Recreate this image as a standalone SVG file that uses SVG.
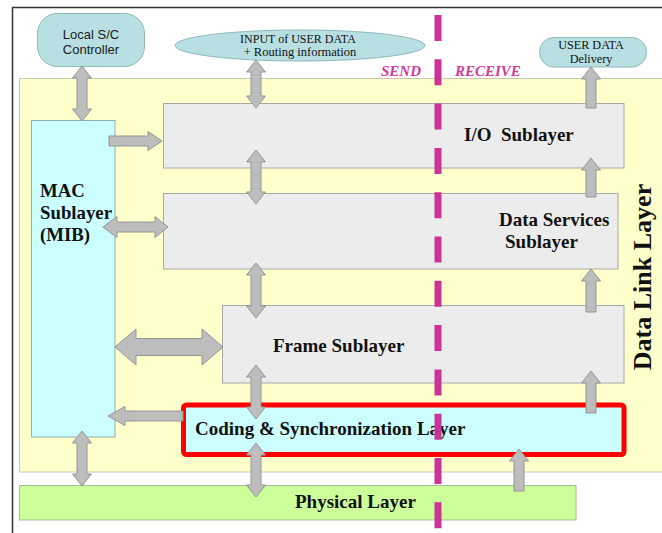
<svg xmlns="http://www.w3.org/2000/svg" width="662" height="533" viewBox="0 0 662 533">
<style>
.bg{fill:#ffffff}
.sans{font-family:"Liberation Sans",Arial,sans-serif;fill:#1a1a1a}
.serif{font-family:"Liberation Serif","Times New Roman",serif;fill:#111}
.b{font-weight:bold}
.teal{fill:#b8dfe2;stroke:#8fb8bc;stroke-width:1}
.grey{fill:#ececec;stroke:#a8a8a8;stroke-width:1}
.cyan{fill:#ccffff;stroke:#8fb0b0;stroke-width:1}
.arrow{fill:#bdbdbd;stroke:#959595;stroke-width:1;stroke-linejoin:miter}
.lbl{font-size:19px}
.mag{fill:#d4389e;font-style:italic;font-weight:bold;font-size:15px}
</style>
<rect x="0" y="0" width="662" height="533" class="bg"/>
<path d="M12.5,533 V7.5 H662" fill="none" stroke="#333" stroke-width="1.5"/>
<g id="data-link-layer">
  <rect x="19.5" y="78.5" width="650" height="393.5" fill="#ffffcc" stroke="#c8c8b0" stroke-width="1"/>
  <text class="serif b" font-size="26" transform="translate(651,277) rotate(-90)" text-anchor="middle">Data Link Layer</text>
</g>
<g id="local-sc-controller">
  <rect x="37.5" y="13.5" width="107" height="53" rx="20" class="teal"/>
  <text class="sans" font-size="13" x="91" y="39" text-anchor="middle">Local S/C</text>
  <text class="sans" font-size="13" x="91" y="54" text-anchor="middle">Controller</text>
</g>
<g id="input-user-data">
  <ellipse cx="300" cy="45.5" rx="125" ry="15.5" class="teal"/>
  <text class="serif" font-size="12" x="298" y="43" text-anchor="middle">INPUT of USER DATA</text>
  <text class="serif" font-size="12.5" x="300" y="55.5" text-anchor="middle">+ Routing information</text>
</g>
<g id="user-data-delivery">
  <rect x="539.5" y="37.5" width="107" height="29.5" rx="14.5" class="teal"/>
  <text class="serif" font-size="12.2" x="591" y="49" text-anchor="middle">USER DATA</text>
  <text class="serif" font-size="12.2" x="591" y="63" text-anchor="middle">Delivery</text>
</g>
<g id="send-receive-labels">
  <text class="serif mag" x="381" y="76">SEND</text>
  <text class="serif mag" x="455" y="76">RECEIVE</text>
</g>
<g id="mac-sublayer">
  <rect x="31.5" y="120.5" width="83.5" height="316.5" class="cyan"/>
  <text class="serif b" font-size="18.8" x="40" y="197">MAC</text>
  <text class="serif b" font-size="18.8" x="40" y="219">Sublayer</text>
  <text class="serif b" font-size="18.8" x="40" y="241">(MIB)</text>
</g>
<g id="io-sublayer">
  <rect x="163.5" y="103.5" width="460.5" height="64.5" class="grey"/>
  <text class="serif b lbl" x="464" y="141" style="white-space:pre">I/O  Sublayer</text>
</g>
<g id="data-services-sublayer">
  <rect x="163.5" y="193.5" width="454.5" height="75.5" class="grey"/>
  <text class="serif b lbl" x="499" y="226">Data Services</text>
  <text class="serif b lbl" x="505" y="248">Sublayer</text>
</g>
<g id="frame-sublayer">
  <rect x="222.5" y="305.5" width="401.5" height="77.5" class="grey"/>
  <text class="serif b lbl" x="273" y="352">Frame Sublayer</text>
</g>
<g id="coding-sync-layer">
  <rect x="183.5" y="405" width="440.5" height="49.5" rx="3" fill="#ccffff" stroke="#ff0000" stroke-width="5"/>
  <text class="serif b lbl" x="195" y="435">Coding &amp; Synchronization Layer</text>
</g>
<g id="physical-layer">
  <rect x="19.5" y="485.5" width="556.5" height="34.5" fill="#ccff99" stroke="#a8b898" stroke-width="1"/>
  <text class="serif b lbl" x="295" y="508">Physical Layer</text>
</g>
<g id="connectors">
  <!-- Local S/C <-> MAC -->
  <polygon class="arrow" points="82,66 91.5,78 87,78 87,109 91.5,109 82,121 72.5,109 77,109 77,78 72.5,78"/>
  <!-- INPUT <-> I/O -->
  <polygon class="arrow" points="256,60 265.5,72 261,72 261,96 265.5,96 256,108 246.5,96 251,96 251,72 246.5,72"/>
  <!-- MAC -> I/O -->
  <polygon class="arrow" points="109,136 148,136 148,131.5 162,141 148,150.5 148,146 109,146"/>
  <!-- I/O <-> Data Services -->
  <polygon class="arrow" points="256,150 265.5,162 261,162 261,192 265.5,192 256,204 246.5,192 251,192 251,162 246.5,162"/>
  <!-- I/O -> USER DATA Delivery -->
  <polygon class="arrow" points="591,67 600.5,79 596,79 596,108 586,108 586,79 581.5,79"/>
  <!-- Data Services -> I/O -->
  <polygon class="arrow" points="591,158 600.5,170 596,170 596,197 586,197 586,170 581.5,170"/>
  <!-- MAC <-> Data Services -->
  <polygon class="arrow" points="103,227 117,216.5 117,222 155,222 155,216.5 168,227 155,237.5 155,232 117,232 117,237.5"/>
  <!-- Data Services <-> Frame -->
  <polygon class="arrow" points="256,263 265.5,275 261,275 261,306 265.5,306 256,318 246.5,306 251,306 251,275 246.5,275"/>
  <!-- Frame -> Data Services -->
  <polygon class="arrow" points="591,269 600.5,281 596,281 596,312 586,312 586,281 581.5,281"/>
  <!-- MAC <-> Frame -->
  <polygon class="arrow" points="115,347 136,329 136,338.5 202,338.5 202,329 223,347 202,365 202,355.5 136,355.5 136,365"/>
  <!-- Frame <-> Coding -->
  <polygon class="arrow" points="256,365 265.5,377 261,377 261,407 265.5,407 256,419 246.5,407 251,407 251,377 246.5,377"/>
  <!-- Coding -> MAC -->
  <polygon class="arrow" points="108,416 125,406.5 125,411 183,411 183,421 125,421 125,425.5"/>
  <!-- Coding -> Frame -->
  <polygon class="arrow" points="591,371 600.5,383 596,383 596,413 586,413 586,383 581.5,383"/>
  <!-- Coding <-> Physical -->
  <polygon class="arrow" points="256,443 265.5,455 261,455 261,485 265.5,485 256,497 246.5,485 251,485 251,455 246.5,455"/>
  <!-- MAC <-> Physical -->
  <polygon class="arrow" points="82,431 91.5,443 87,443 87,474 91.5,474 82,486 72.5,474 77,474 77,443 72.5,443"/>
  <!-- Physical -> Coding -->
  <polygon class="arrow" points="519,449 528.5,461 524,461 524,491 514,491 514,461 509.5,461"/>
</g>
<g id="send-receive-divider">
  <line x1="438" y1="15" x2="438" y2="533" stroke="#cc3399" stroke-width="7" stroke-dasharray="26 18.3"/>
</g>
</svg>
